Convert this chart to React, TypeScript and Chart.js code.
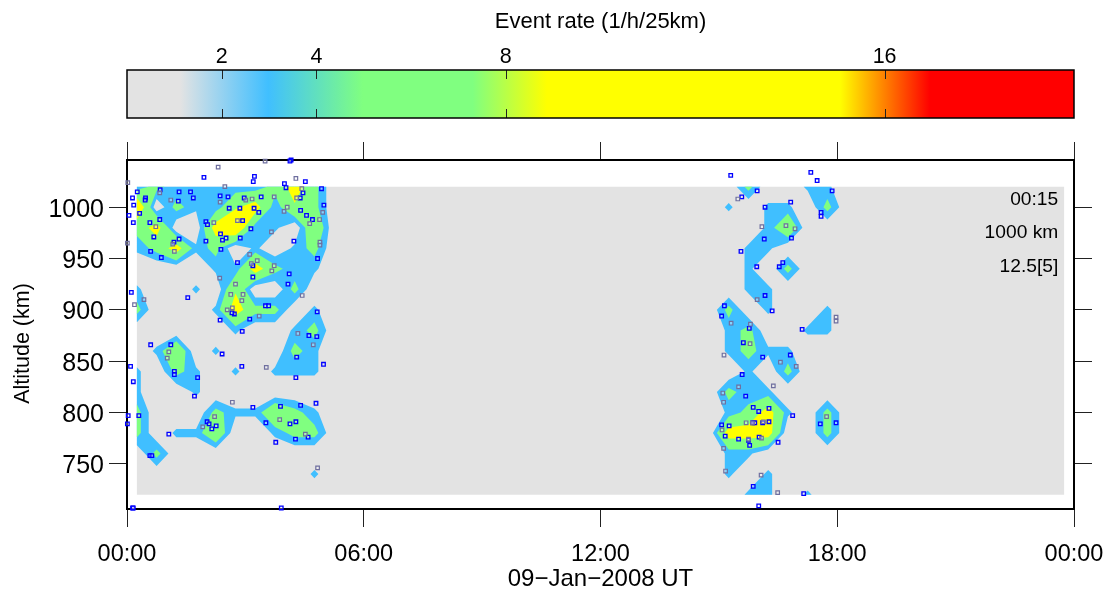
import React, { useEffect, useRef } from "react";
import { Chart, registerables } from "chart.js";

Chart.register(...registerables);

// ---- grid of event rates: one node every 30 minutes and every 20 km ----
const gridStartHour = 0.25;
const gridStepHour = 0.5;
const gridTopKm = 1020;
const gridStepKm = 20;
const gridColumns = 48;
const morningFirstColumn = 0;
const eveningFirstColumn = 29;

const morningRates = [
  [2.5, 5, 2.5, 2.5, 2.5, 2.5, 2.5, 5, 10, 5],
  [12.5, 0, 5, 2.5, 2.5, 7.5, 10, 2.5, 7.5, 5],
  [5, 10, 0, 0, 10, 12.5, 2.5, 2.5, 0, 7.5],
  [2.5, 5, 10, 2.5, 5, 0, 2.5, 0, 2.5, 5],
  [0, 0, 0, 0, 2.5, 2.5, 10, 5, 2.5, 2.5],
  [2.5, 0, 0, 2.5, 0, 7.5, 0, 0, 5, 0],
  [5, 0, 0, 0, 2.5, 10, 5, 5, 0, 2.5],
  [0, 0, 0, 0, 0, 2.5, 0, 0, 2.5, 5],
  [0, 2.5, 7.5, 0, 2.5, 0, 0, 0, 5, 2.5],
  [2.5, 0, 5, 2.5, 0, 2.5, 0, 2.5, 2.5, 2.5],
  [2.5, 0, 0, 2.5, 0, 0, 0, 0, 0, 0],
  [5, 0, 0, 0, 5, 2.5, 2.5, 7.5, 5, 2.5],
  [5, 0, 2.5, 2.5, 7.5, 0, 0, 2.5, 5, 5],
  [0, 5, 0, 0, 0, 0, 0, 0, 0, 0],
  [0, 0, 0, 0, 0, 0, 0, 0, 0, 2.5],
  [0, 0, 0, 0, 0, 0, 0, 0, 0, 0],
];

const eveningRates = [
  [0, 0, 5, 0, 0, 2.5, 2.5],
  [0, 2.5, 0, 2.5, 2.5, 0, 5],
  [0, 0, 0, 2.5, 7.5, 0, 0],
  [0, 0, 2.5, 2.5, 0, 0, 0],
  [0, 0, 2.5, 0, 5, 0, 0],
  [0, 0, 2.5, 2.5, 0, 0, 0],
  [0, 5, 0, 2.5, 0, 0, 2.5],
  [0, 2.5, 5, 0, 0, 2.5, 2.5],
  [0, 2.5, 5, 2.5, 2.5, 0, 0],
  [0, 0, 2.5, 0, 5, 0, 0],
  [0, 5, 2.5, 2.5, 0, 0, 0],
  [0, 2.5, 5, 10, 2.5, 0, 5],
  [0, 10, 10, 10, 0, 0, 5],
  [0, 2.5, 2.5, 0, 0, 0, 0],
  [0, 2.5, 0, 2.5, 0, 0, 0],
  [0, 0, 2.5, 2.5, 0, 2.5, 0],
];

// contour levels and their fills (the first one paints the whole grid)
const contourLevels = [-1, 2, 4, 8, 16];
const contourColors = ["#e3e3e3", "#40bfff", "#80ff80", "#ffff00", "#ff0000"];

// ---- events: [hour, altitude km] ----
const blueEvents = [
  [4.16,1046],[4.13,1045],[1.95,1029],[3.23,1030],[3.2,1025],[3.99,1023],[4.03,1019],[4.52,1025],[0.26,1015],[0.84,1017],
  [1.32,1015],[1.61,1015],[4.93,1018],[0.14,1009],[0.47,1009],[0.46,1007],[1.3,1006],[1.68,1009],[2.36,1011],[2.56,1010],
  [2.97,1009],[3.4,1010],[4.46,1014],[4.39,1009],[0.17,1002],[4.99,1002],[2.59,999],[2.86,999],[3.22,999],[4.4,997],
  [0.32,994],[3.34,995],[4.55,992],[0.05,992],[0.83,988],[0.58,985],[0.16,985],[2.0,986],[2.04,983],[2.93,987],
  [4.7,988],[3.14,979],[2.37,974],[0.68,971],[1.32,969],[1.19,966],[2.0,967],[2.51,970],[2.42,968],[2.87,970],
  [4.23,967],[0.6,957],[2.38,959],[0.87,951],[4.83,950],[2.8,946],[3.19,943],[3.19,932],[4.11,935],[4.08,925],
  [0.11,917],[1.54,912],[3.51,904],[3.59,904],[2.72,896],[2.66,897],[4.82,898],[3.11,891],[2.36,890],[2.92,879],
  [4.61,875],[4.81,874],[0.6,866],[1.11,866],[2.41,857],[1.2,840],[1.2,837],[1.79,834],[0.09,845],[0.16,830],
  [2.91,845],[4.98,847],[4.3,854],[4.28,834],[1.71,816],[3.19,805],[3.89,806],[4.4,807],[4.79,809],[0.03,797],
  [0.3,797],[0.01,789],[3.52,790],[4.13,789],[4.28,791],[2.03,791],[2.08,789],[2.26,787],[2.15,784],[1.06,779],
  [4.27,774],[4.59,776],[3.77,771],[0.58,758],[0.63,758],[0.14,707],[0.16,707],[3.91,707],
  [15.3,1031],[17.33,1034],[17.49,1026],[17.87,1016],[15.97,1016],[15.58,1010],[16.17,1000],[16.82,1005],[17.59,995],[17.59,991],
  [16.15,969],[16.84,970],[15.56,957],[16.62,946],[16.53,942],[15.96,942],[16.17,914],[16.35,899],[15.14,904],[15.07,894],
  [17.11,881],[15.77,882],[15.62,868],[16.11,854],[16.81,856],[15.59,837],[15.68,816],[15.87,805],[16.01,801],[16.27,804],
  [16.87,797],[15.07,788],[15.26,787],[15.86,790],[15.91,790],[16.11,790],[16.27,791],[17.57,789],[17.97,790],[15.16,777],
  [15.5,774],[15.75,773],[16.02,776],[15.78,768],[16.5,771],[15.87,728],[17.15,721],[16.01,709],
];

const greyEvents = [
  [3.5,1045],[2.31,1039],[0.02,1024],[4.28,1028],[2.48,1020],[0.83,1014],[4.43,1018],[1.11,1007],[2.36,1005],[3.01,1007],
  [3.17,1008],[3.73,1010],[4.3,1009],[4.06,1000],[3.98,996],[4.96,995],[4.88,988],[4.63,984],[2.2,985],[2.8,987],
  [0.73,981],[3.66,976],[0.01,965],[4.89,966],[4.89,963],[1.16,964],[1.2,957],[3.11,954],[3.3,948],[3.15,945],
  [3.73,943],[3.67,938],[2.35,931],[4.44,914],[2.75,925],[2.63,915],[2.94,915],[2.91,909],[0.43,910],[0.19,905],
  [2.67,902],[2.54,900],[3.35,894],[4.33,877],[1.06,859],[1.02,853],[4.72,866],[3.53,844],[2.67,810],[2.22,796],
  [1.92,786],[3.87,793],[4.52,779],[4.83,746],
  [15.48,1008],[16.09,981],[16.7,982],[16.93,979],[15.97,910],[17.97,893],[17.97,889],[15.31,887],[15.8,886],[15.79,867],
  [15.13,856],[16.56,849],[16.96,845],[15.5,825],[16.38,826],[15.1,819],[15.12,810],[17.73,796],[15.69,790],[15.85,790],
  [16.13,791],[15.08,783],[15.75,774],[16.08,775],[15.12,765],[15.17,743],[16.07,739],[16.49,722],
];

// ---- axes ----
const hourTicks = [0, 6, 12, 18, 24];
const hourLabels = ["00:00", "06:00", "12:00", "18:00", "00:00"];
const altitudeTicks = [750, 800, 850, 900, 950, 1000];
const altitudeRange = [706, 1046];
const xTitle = "09\u2212Jan\u22122008 UT";
const yTitle = "Altitude (km)";
const cornerNotes = ["00:15", "1000 km", "12.5[5]"];
const cornerNoteKm = [1007, 975, 942.5];

// ---- colour bar ----
const barRange = [0, 20];
const barTicks = [2, 4, 8, 16];
const barTitle = "Event rate (1/h/25km)";
const barStopValues = [0, 1.12, 2.98, 4.98, 7.3, 8.87, 15.06, 16.96, 20];
const barStopColors = ["#e3e3e3", "#e3e3e3", "#40bfff", "#80ff80", "#80ff80", "#ffff00", "#ffff00", "#ff0000", "#ff0000"];

const FONT = "'Liberation Sans', Arial, sans-serif";

function buildRateGrid(): number[][] {
  return morningRates.map((row, j) => {
    const out = new Array(gridColumns).fill(0);
    row.forEach((v, i) => (out[morningFirstColumn + i] = v));
    eveningRates[j].forEach((v, i) => (out[eveningFirstColumn + i] = v));
    return out;
  });
}

type Pt = { x: number; y: number } | { x: null; y: null };

// Region of the grid at or above one level, as small polygons in data units.
function bandVertices(grid: number[][], level: number): Pt[] {
  const out: Pt[] = [];
  const hour = (c: number) => gridStartHour + gridStepHour * c;
  const km = (r: number) => gridTopKm - gridStepKm * r;
  const push = (poly: { x: number; y: number }[]) => {
    poly.forEach((p) => out.push(p));
    out.push({ x: null, y: null });
  };
  for (let r = 0; r < grid.length - 1; r++) {
    for (let c = 0; c < gridColumns - 1; c++) {
      const corners = [
        { v: grid[r][c], x: hour(c), y: km(r) },
        { v: grid[r][c + 1], x: hour(c + 1), y: km(r) },
        { v: grid[r + 1][c + 1], x: hour(c + 1), y: km(r + 1) },
        { v: grid[r + 1][c], x: hour(c), y: km(r + 1) },
      ];
      const above = corners.map((k) => k.v >= level);
      if (!above.some(Boolean)) continue;
      const cross = (a: number, b: number) => {
        const p = corners[a];
        const q = corners[b];
        const t = (level - p.v) / (q.v - p.v);
        return { x: p.x + (q.x - p.x) * t, y: p.y + (q.y - p.y) * t };
      };
      const isSaddle = above[0] === above[2] && above[1] === above[3] && above[0] !== above[1];
      const mean = corners.reduce((s, k) => s + k.v, 0) / 4;
      if (isSaddle && mean < level) {
        const hi = above[0] ? 0 : 1;
        [hi, hi + 2].forEach((a) => {
          const prev = (a + 3) % 4;
          const next = (a + 1) % 4;
          push([cross(prev, a), { x: corners[a].x, y: corners[a].y }, cross(a, next)]);
        });
        continue;
      }
      const poly: { x: number; y: number }[] = [];
      for (let i = 0; i < 4; i++) {
        const n = (i + 1) % 4;
        if (above[i]) poly.push({ x: corners[i].x, y: corners[i].y });
        if (above[i] !== above[n]) poly.push(cross(i, n));
      }
      push(poly);
    }
  }
  return out;
}

const contourPlugin = {
  id: "contourFill",
  beforeDatasetsDraw(chart: any) {
    const ctx = chart.ctx;
    chart.data.datasets.forEach((ds: any, i: number) => {
      if (!ds.contourColor) return;
      const meta = chart.getDatasetMeta(i);
      ctx.save();
      ctx.fillStyle = ds.contourColor;
      ctx.beginPath();
      let open = false;
      meta.data.forEach((el: any) => {
        if (el.skip || Number.isNaN(el.x) || Number.isNaN(el.y)) {
          if (open) ctx.closePath();
          open = false;
        } else if (!open) {
          ctx.moveTo(el.x, el.y);
          open = true;
        } else {
          ctx.lineTo(el.x, el.y);
        }
      });
      ctx.fill();
      ctx.restore();
    });
  },
  afterDraw(chart: any) {
    const ctx = chart.ctx;
    ctx.save();
    ctx.fillStyle = "#000";
    ctx.font = `19.2px ${FONT}`;
    ctx.textAlign = "right";
    ctx.textBaseline = "middle";
    const xs = chart.scales.x;
    const ys = chart.scales.y;
    const noteX = xs.getPixelForValue(23.6);
    cornerNoteKm.forEach((km, i) => ctx.fillText(cornerNotes[i], noteX, ys.getPixelForValue(km)));
    ctx.translate(23, 343.5);
    ctx.rotate(-Math.PI / 2);
    ctx.textAlign = "center";
    ctx.font = `21.5px ${FONT}`;
    ctx.fillText(yTitle, 0, 0);
    ctx.restore();
  },
};

const barPlugin = {
  id: "barFill",
  beforeDatasetsDraw(chart: any) {
    const ctx = chart.ctx;
    const xs = chart.scales.x;
    const { top, bottom, left, right } = chart.chartArea;
    const g = ctx.createLinearGradient(xs.getPixelForValue(barRange[0]), 0, xs.getPixelForValue(barRange[1]), 0);
    barStopValues.forEach((v, i) => g.addColorStop((v - barRange[0]) / (barRange[1] - barRange[0]), barStopColors[i]));
    ctx.save();
    ctx.fillStyle = g;
    ctx.fillRect(left, top, right - left, bottom - top);
    ctx.strokeStyle = "#222";
    ctx.lineWidth = 1;
    ctx.beginPath();
    barTicks.forEach((v) => {
      const x = Math.round(xs.getPixelForValue(v)) + 0.5;
      ctx.moveTo(x, top);
      ctx.lineTo(x, top + 9);
      ctx.moveTo(x, bottom - 9);
      ctx.lineTo(x, bottom);
    });
    ctx.stroke();
    ctx.strokeStyle = "#000";
    ctx.lineWidth = 1.5;
    ctx.strokeRect(left, top, right - left, bottom - top);
    ctx.restore();
  },
};

const toPoints = (rows: number[][]) => rows.map(([x, y]) => ({ x, y }));
const setTicks = (values: number[]) => (scale: any) => {
  scale.ticks = values.map((value) => ({ value }));
};
// Fixed axis thickness, without the extra room Chart.js keeps for end labels.
const setSize = (key: "width" | "height", size: number) => (scale: any) => {
  scale[key] = size;
  scale.paddingLeft = 0;
  scale.paddingRight = 0;
  scale.paddingTop = 0;
  scale.paddingBottom = 0;
};

export default function App() {
  const mainRef = useRef<HTMLCanvasElement>(null);
  const barRef = useRef<HTMLCanvasElement>(null);

  useEffect(() => {
    const grid = buildRateGrid();
    const lineGrid = {
      drawOnChartArea: false,
      tickLength: 18,
      tickColor: "#222",
      tickWidth: 1,
    };
    const border = { display: true, color: "#000", width: 2 };
    const main = new Chart(mainRef.current!, {
      type: "scatter",
      data: {
        datasets: [
          ...contourLevels.map((level, i) => ({
            label: `rate >= ${level}`,
            data: bandVertices(grid, level),
            contourColor: contourColors[i],
            pointRadius: 0,
            showLine: false,
            normalized: false,
          })),
          {
            label: "events",
            data: toPoints(greyEvents),
            pointStyle: "rect",
            pointRadius: 2.5,
            pointBorderWidth: 1.2,
            pointBorderColor: "#6f6f9f",
            pointBackgroundColor: "rgba(255,255,255,0.35)",
            clip: false,
          },
          {
            label: "events (strong)",
            data: toPoints(blueEvents),
            pointStyle: "rect",
            pointRadius: 2.5,
            pointBorderWidth: 1.3,
            pointBorderColor: "#0000ff",
            pointBackgroundColor: "rgba(255,255,255,0.35)",
            clip: false,
          },
        ] as any,
      },
      options: {
        responsive: false,
        animation: false,
        events: [],
        layout: { padding: 0 },
        plugins: { legend: { display: false }, tooltip: { enabled: false }, title: { display: false } },
        scales: {
          x: {
            type: "linear",
            position: "bottom",
            min: 0,
            max: 24,
            afterBuildTicks: setTicks(hourTicks),
            afterFit: setSize("height", 86),
            grid: lineGrid,
            border,
            ticks: {
              autoSkip: false,
              maxRotation: 0,
              padding: 13,
              color: "#000",
              font: { family: FONT, size: 23.5 },
              callback: (v: any) => hourLabels[hourTicks.indexOf(v)],
            },
            title: {
              display: true,
              text: xTitle,
              color: "#000",
              font: { family: FONT, size: 24 },
              padding: { top: 0, bottom: 1 },
            },
          },
          x2: {
            type: "linear",
            axis: "x",
            position: "top",
            min: 0,
            max: 24,
            afterBuildTicks: setTicks(hourTicks),
            afterFit: setSize("height", 160),
            grid: lineGrid,
            border,
            ticks: { display: false },
          },
          y: {
            type: "linear",
            position: "left",
            min: altitudeRange[0],
            max: altitudeRange[1],
            afterBuildTicks: setTicks(altitudeTicks),
            afterFit: setSize("width", 127),
            grid: lineGrid,
            border,
            ticks: {
              autoSkip: false,
              padding: 5,
              labelOffset: 2.5,
              color: "#000",
              font: { family: FONT, size: 25 },
              callback: (v: any) => String(v),
            },
          },
          y2: {
            type: "linear",
            axis: "y",
            position: "right",
            min: altitudeRange[0],
            max: altitudeRange[1],
            afterBuildTicks: setTicks(altitudeTicks),
            afterFit: setSize("width", 36),
            grid: lineGrid,
            border,
            ticks: { display: false },
          },
        },
      } as any,
      plugins: [contourPlugin],
    });

    const bar = new Chart(barRef.current!, {
      type: "scatter",
      data: { datasets: [{ label: "scale", data: [], pointRadius: 0 }] },
      options: {
        responsive: false,
        animation: false,
        events: [],
        layout: { padding: { left: 127, right: 36, top: 0, bottom: 12 } },
        plugins: { legend: { display: false }, tooltip: { enabled: false } },
        scales: {
          x: {
            type: "linear",
            position: "top",
            min: barRange[0],
            max: barRange[1],
            afterBuildTicks: setTicks(barTicks),
            afterFit: setSize("height", 70),
            grid: { display: false, drawTicks: false },
            border: { display: false },
            ticks: {
              autoSkip: false,
              maxRotation: 0,
              padding: 0,
              color: "#000",
              font: { family: FONT, size: 21.5 },
              callback: (v: any) => String(v),
            },
            title: {
              display: true,
              text: barTitle,
              color: "#000",
              font: { family: FONT, size: 22 },
              padding: { top: 9, bottom: 0 },
            },
          },
          y: { type: "linear", min: 0, max: 1, display: false },
        },
      } as any,
      plugins: [barPlugin],
    });

    return () => {
      main.destroy();
      bar.destroy();
    };
  }, []);

  return (
    <div style={{ position: "fixed", left: 0, top: 0, width: 1110, height: 595, background: "#fff" }}>
      <canvas ref={mainRef} width={1110} height={595} style={{ position: "absolute", left: 0, top: 0, display: "block" }} />
      <canvas ref={barRef} width={1110} height={130} style={{ position: "absolute", left: 0, top: 0, display: "block" }} />
    </div>
  );
}
